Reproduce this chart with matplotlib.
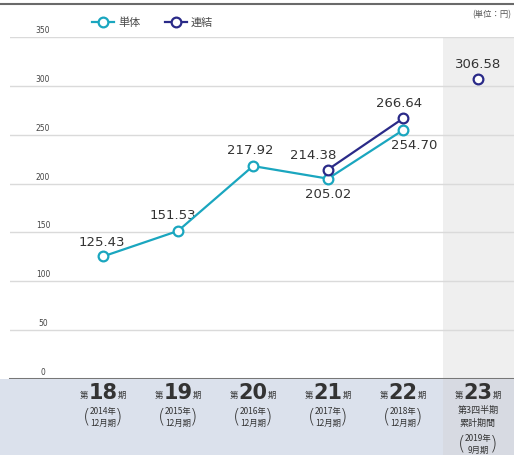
import matplotlib
matplotlib.use("Agg")
import matplotlib.pyplot as plt
from matplotlib.patches import Rectangle
from matplotlib.lines import Line2D

plt.rcParams['font.family'] = ['Noto Sans CJK JP', 'DejaVu Sans']

# ---- data ----
periods = ["18", "19", "20", "21", "22", "23"]
years = ["2014年", "2015年", "2016年", "2017年", "2018年", "2019年"]
months = ["12月期", "12月期", "12月期", "12月期", "12月期", "9月期"]
tandoku = [125.43, 151.53, 217.92, 205.02, 254.70]          # 単体 (periods 18-22)
renketsu_idx = [3, 4]
renketsu = [214.38, 266.64]                                   # 連結 (periods 21-22)
renketsu_q3 = 306.58                                          # 連結 period 23 (Q3 cumulative)
yticks = [0, 50, 100, 150, 200, 250, 300, 350]

C1 = "#1aa6bf"
C2 = "#2a2a88"
TXT = "#333333"

W, H = 514, 456
fig = plt.figure(figsize=(W / 100, H / 100), dpi=100)

def fx(px):
    return px / W

def fy(py):
    return 1 - py / H

# bottom band
fig.patches.append(Rectangle((0, 0), 1, fy(380), transform=fig.transFigure,
                             facecolor="#dbe1ec", edgecolor="none", zorder=0))
fig.patches.append(Rectangle((fx(443), 0), 1 - fx(443), fy(380), transform=fig.transFigure,
                             facecolor="#d7dae2", edgecolor="none", zorder=0))
# top line
fig.add_artist(Line2D([0, 1], [fy(5), fy(5)], transform=fig.transFigure,
                      color="#6a6a6a", lw=1.5))

ax = fig.add_axes([fx(10), fy(380), fx(504), (380 - 38) / H])
ax.set_facecolor("none")
step = 75.0
x0 = -(103 - 10) / step
x1 = 5 + (514 - 478) / step
ax.set_xlim(x0, x1)
ax.set_ylim(0, 350)
for s in ax.spines.values():
    s.set_visible(False)
ax.set_xticks([])
ax.set_yticks([])

# shaded column for period 23
shade_left = 4 + (443 - 403) / step
ax.add_patch(Rectangle((shade_left, 0), x1 - shade_left, 350,
                       facecolor="#efefef", edgecolor="none", zorder=0))

# grid lines
for v in yticks[1:]:
    ax.axhline(v, color="#dadada", lw=1.0, zorder=1)
ax.axhline(0, color="#777777", lw=2.2, zorder=2, clip_on=False)

# y tick labels (above lines)
for v in yticks:
    ax.annotate(str(v), (x0, v), xytext=(33, 3), textcoords="offset pixels",
                ha="center", va="bottom", fontsize=6, color="#444444",
                family="DejaVu Sans", fontstretch="condensed", annotation_clip=False)

xs = list(range(len(tandoku)))
ax.plot(xs, tandoku, color=C1, lw=1.6, marker="o", ms=7, mfc="white",
        mec=C1, mew=1.6, zorder=4)
ax.plot(renketsu_idx, renketsu, color=C2, lw=1.6, marker="o", ms=7, mfc="white",
        mec=C2, mew=1.6, zorder=5)
ax.plot([5], [renketsu_q3], color=C2, lw=0, marker="o", ms=7, mfc="white",
        mec=C2, mew=1.6, zorder=5)

lab_kw = dict(textcoords="offset points", fontsize=9.5, color=TXT,
              family="DejaVu Sans", annotation_clip=False)
# 単体 labels
ax.annotate(f"{tandoku[0]:.2f}", (0, tandoku[0]), xytext=(-1, 6), ha="center", va="bottom", **lab_kw)
ax.annotate(f"{tandoku[1]:.2f}", (1, tandoku[1]), xytext=(-4, 7), ha="center", va="bottom", **lab_kw)
ax.annotate(f"{tandoku[2]:.2f}", (2, tandoku[2]), xytext=(-2, 7), ha="center", va="bottom", **lab_kw)
ax.annotate(f"{tandoku[3]:.2f}", (3, tandoku[3]), xytext=(0, -6), ha="center", va="top", **lab_kw)
ax.annotate(f"{tandoku[4]:.2f}", (4, tandoku[4]), xytext=(8, -6), ha="center", va="top", **lab_kw)
# 連結 labels
ax.annotate(f"{renketsu[0]:.2f}", (3, renketsu[0]), xytext=(-11, 6), ha="center", va="bottom", **lab_kw)
ax.annotate(f"{renketsu[1]:.2f}", (4, renketsu[1]), xytext=(-3, 7), ha="center", va="bottom", **lab_kw)
ax.annotate(f"{renketsu_q3:.2f}", (5, renketsu_q3), xytext=(0, 7), ha="center", va="bottom", **lab_kw)

# legend
def legend_item(xl, color, label):
    fig.add_artist(Line2D([fx(xl), fx(xl + 22)], [fy(23), fy(23)], transform=fig.transFigure,
                          color=color, lw=1.6))
    fig.add_artist(Line2D([fx(xl + 11)], [fy(23)], transform=fig.transFigure, color=color,
                          marker="o", ms=7, mfc="white", mec=color, mew=1.6))
    fig.text(fx(xl + 26), fy(23), label, fontsize=8, color="#4a4a4a", va="center", ha="left")

legend_item(92, C1, "単体")
legend_item(165, C2, "連結")

# unit label
fig.text(fx(511), fy(15), "(単位：円)", fontsize=6, color="#555555", ha="right", va="center")

# category labels in bottom band
for i, p in enumerate(periods):
    cx = 103 + step * i
    fig.text(fx(cx - 15), fy(398), "第", fontsize=6, color="#333333", ha="right", va="baseline")
    fig.text(fx(cx), fy(399), p, fontsize=15, fontweight="bold", color="#333333",
             ha="center", va="baseline", family="DejaVu Sans")
    fig.text(fx(cx + 15), fy(398), "期", fontsize=6, color="#333333", ha="left", va="baseline")
    if i < 5:
        yc = 417
    else:
        fig.text(fx(cx), fy(410), "第3四半期", fontsize=6.5, color="#333333", ha="center", va="center")
        fig.text(fx(cx), fy(423), "累計期間", fontsize=6.5, color="#333333", ha="center", va="center")
        yc = 444
    fig.text(fx(cx), fy(yc - 5), years[i], fontsize=6, color="#333333", ha="center", va="center")
    fig.text(fx(cx), fy(yc + 6), months[i], fontsize=6, color="#333333", ha="center", va="center")
    fig.text(fx(cx - 16), fy(yc), "(", fontsize=14, color="#333333", ha="center", va="center",
             family="DejaVu Sans", fontweight="light")
    fig.text(fx(cx + 16), fy(yc), ")", fontsize=14, color="#333333", ha="center", va="center",
             family="DejaVu Sans", fontweight="light")

fig.savefig("out.png", dpi=100)
